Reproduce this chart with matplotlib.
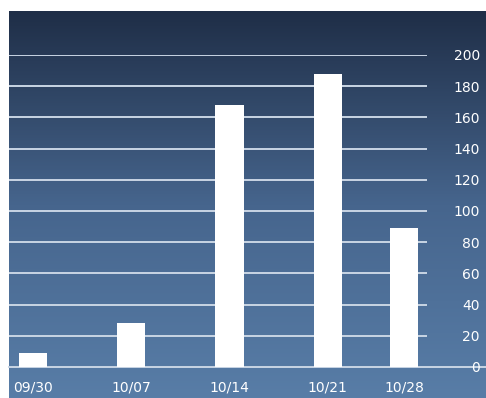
import numpy as np
import matplotlib
matplotlib.use('Agg')
import matplotlib.pyplot as plt
from matplotlib.colors import LinearSegmentedColormap

# weekly values
dates = ['09/30', '10/07', '10/14', '10/21', '10/28']
values = [9, 28, 168, 188, 89]
yticks = [0, 20, 40, 60, 80, 100, 120, 140, 160, 180, 200]

# the last bar sits closer to its neighbour in the original
slots = [0, 1, 2, 3, 3.78]

W, H = 486, 398
fig = plt.figure(figsize=(W / 100, H / 100), dpi=100)
fig.patch.set_facecolor('white')

# gradient panel
bg = fig.add_axes([9 / W, 0, (W - 9) / W, (H - 11) / H])
grad = LinearSegmentedColormap.from_list('bg', ['#587da7', '#46658d', '#1f2e47'])
bg.imshow(np.linspace(0, 1, 256).reshape(-1, 1), aspect='auto', cmap=grad,
          origin='lower', extent=[0, 1, 0, 1])
bg.set_axis_off()

ax = fig.add_axes([9 / W, (H - 367) / H, (427 - 9) / W, 312 / H])
ax.patch.set_alpha(0)
for s in ax.spines.values():
    s.set_visible(False)

gridcol = '#c9d5e4'
for v in yticks[1:]:
    ax.axhline(v, color=gridcol, lw=1.4, zorder=1)
ax.plot([0, (W - 9) / (427 - 9)], [0, 0], transform=ax.get_yaxis_transform(),
        color=gridcol, lw=1.4, clip_on=False, zorder=1)

ax.bar(slots, values, width=0.286, color='white', zorder=2)

ax.set_xlim(-0.245, 4.01)
ax.set_ylim(0, 200)
ax.set_xticks(slots)
ax.set_xticklabels(dates)
ax.set_yticks(yticks)
ax.yaxis.tick_right()
ax.tick_params(axis='y', length=0, pad=38, colors='white', labelsize=10)
ax.tick_params(axis='x', length=0, pad=10, colors='white', labelsize=10)
for t in ax.get_yticklabels():
    t.set_horizontalalignment('right')

fig.savefig('out.png', dpi=100)
